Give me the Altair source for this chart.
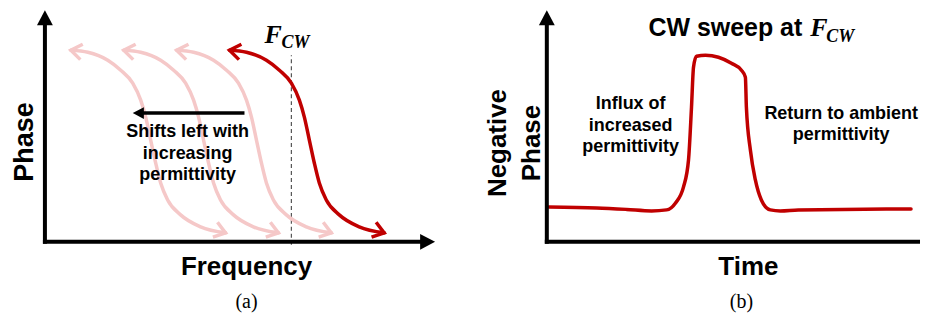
import altair as alt
import pandas as pd

# ---------------- Panel (a): phase vs frequency (schematic) ----------------
red_freq = [185, 202, 222, 235, 247, 255, 260, 265, 270, 275, 282, 295, 315, 340]
red_phase = [192, 190, 182, 172, 159, 142, 125, 102, 79, 59, 42, 27, 15, 9]
pink3_freq = [132, 149, 169, 182, 194, 202, 207, 212, 217, 222, 229, 242, 262, 287]
pink2_freq = [79, 96, 116, 129, 141, 149, 154, 159, 164, 169, 176, 189, 209, 234]
pink1_freq = [26, 43, 63, 76, 88, 96, 101, 106, 111, 116, 123, 136, 156, 181]
pink_phase = [192, 190, 182, 172, 159, 142, 125, 102, 79, 59, 42, 27, 15, 9]
f_cw = 247
shift_arrow_from = 200
shift_arrow_to = 88
shift_arrow_level = 129
shift_text = ["Shifts left with", "increasing", "permittivity"]
shift_text_y = [105, 83, 62]

# ---------------- Panel (b): CW sweep at F_CW ----------------
time_b = [2, 50, 80, 105, 120, 129, 137, 142, 145, 147, 150, 159, 172, 185, 195, 199,
          200, 204, 209, 215, 224, 234, 252, 365]
negphase_b = [35, 34, 32.5, 31, 32, 39, 55, 82, 135, 175, 186, 187, 185, 179, 172, 165,
              135, 92, 62, 42, 32, 31, 32, 33]
influx_text = ["Influx of", "increased", "permittivity"]
influx_y = [133, 111, 90]
return_text = ["Return to ambient", "permittivity"]
return_y = [123, 102]

RED = "#C00000"
PINK = "#F5C8C8"
SANS = "Liberation Sans"
SERIF = "Liberation Serif"
CHEVRON = "M-1,-0.72L0,0L-1,0.72"
HEAD = "M0,0L-1,-0.53L-1,0.53Z"

H = 305
YDOM = [-71, 234]


def enc(xdom, xf="x:Q", yf="y:Q"):
    return dict(
        x=alt.X(xf, scale=alt.Scale(domain=xdom, nice=False, zero=False), axis=None),
        y=alt.Y(yf, scale=alt.Scale(domain=YDOM, nice=False, zero=False), axis=None),
    )


def axes_layers(xdom, x_end, x_head=True):
    x_line_end = x_end - 14 if x_head else x_end
    lines = pd.DataFrame({"x": [0, -2], "y": [-2, 0], "x2": [0, x_line_end], "y2": [218, 0]})
    rules = alt.Chart(lines).mark_rule(color="black", strokeWidth=4, strokeCap="butt").encode(
        **enc(xdom), x2="x2:Q", y2="y2:Q")
    hx, hy, ha = [0], [232], [270]
    if x_head:
        hx.append(x_end)
        hy.append(0)
        ha.append(0)
    heads = pd.DataFrame({"x": hx, "y": hy, "angle": ha})
    tips = alt.Chart(heads).mark_point(shape=HEAD, size=900, filled=True, color="black",
                                       opacity=1, strokeWidth=0).encode(
        **enc(xdom), angle=alt.Angle("angle:Q", scale=None))
    return [rules, tips]


def text_layer(df, xdom, size, weight="bold", font=SANS, align="center", angle=0, style=""):
    kw = dict(font=font, fontSize=size, fontWeight=weight, align=align,
              baseline="alphabetic", color="black")
    if angle:
        kw["angle"] = angle
    if style:
        kw["fontStyle"] = style
    return alt.Chart(df).mark_text(**kw).encode(**enc(xdom), text="t:N")


# ----- panel (a) -----
XA = [-37, 428]
rows = []
for name, fr in [("p1", pink1_freq), ("p2", pink2_freq), ("p3", pink3_freq)]:
    for i, (f, p) in enumerate(zip(fr, pink_phase)):
        rows.append({"x": f, "y": p, "curve": name, "i": i})
for i, (f, p) in enumerate(zip(red_freq, red_phase)):
    rows.append({"x": f, "y": p, "curve": "red", "i": i})
curves_a = pd.DataFrame(rows)

lines_a = alt.Chart(curves_a).mark_line(interpolate="monotone", strokeWidth=3.5,
                                         strokeCap="round").encode(
    **enc(XA),
    color=alt.Color("curve:N", scale=alt.Scale(domain=["p1", "p2", "p3", "red"],
                                               range=[PINK, PINK, PINK, RED]), legend=None),
    order="i:Q",
)

chev_rows = []
for fr, ph, col in [(pink1_freq, pink_phase, PINK), (pink2_freq, pink_phase, PINK),
                    (pink3_freq, pink_phase, PINK), (red_freq, red_phase, RED)]:
    chev_rows.append({"x": fr[0], "y": ph[0], "angle": 189, "col": col})
    chev_rows.append({"x": fr[-1], "y": ph[-1], "angle": 17, "col": col})
chev_a = alt.Chart(pd.DataFrame(chev_rows)).mark_point(
    shape=CHEVRON, size=470, filled=False, strokeWidth=3.5, opacity=1,
    strokeJoin="miter", strokeCap="butt").encode(
    **enc(XA), angle=alt.Angle("angle:Q", scale=None), color=alt.Color("col:N", scale=None))

dash_a = alt.Chart(pd.DataFrame({"x": [f_cw], "y": [-3], "y2": [187]})).mark_rule(
    color="#555555", strokeWidth=1.2, strokeDash=[4, 3]).encode(**enc(XA), y2="y2:Q")

shift_line = alt.Chart(pd.DataFrame({"x": [shift_arrow_from], "x2": [shift_arrow_to + 8],
                                     "y": [shift_arrow_level]})).mark_rule(
    color="black", strokeWidth=3.5).encode(**enc(XA), x2="x2:Q")
shift_head = alt.Chart(pd.DataFrame({"x": [shift_arrow_to], "y": [shift_arrow_level],
                                     "angle": [180]})).mark_point(
    shape=HEAD, size=500, filled=True, color="black", opacity=1, strokeWidth=0).encode(
    **enc(XA), angle=alt.Angle("angle:Q", scale=None))

shift_df = pd.DataFrame({"t": shift_text, "x": [143] * 3, "y": shift_text_y})
panel_a = alt.layer(
    dash_a,
    lines_a,
    chev_a,
    *axes_layers(XA, 391),
    shift_line,
    shift_head,
    text_layer(shift_df, XA, 18),
    text_layer(pd.DataFrame({"t": ["Phase"], "x": [-12], "y": [100]}), XA, 27, angle=270),
    text_layer(pd.DataFrame({"t": ["Frequency"], "x": [202], "y": [-33]}), XA, 26),
    text_layer(pd.DataFrame({"t": ["(a)"], "x": [202], "y": [-66]}), XA, 20,
               weight="normal", font=SERIF),
    text_layer(pd.DataFrame({"t": ["F"], "x": [220], "y": [199]}), XA, 26, font=SERIF,
               align="left", style="italic"),
    text_layer(pd.DataFrame({"t": ["CW"], "x": [237], "y": [194]}), XA, 18, font=SERIF,
               align="left", style="italic"),
).properties(width=465, height=H)

# ----- panel (b) -----
XB = [-75, 374]
curve_b = pd.DataFrame({"x": time_b, "y": negphase_b, "i": list(range(len(time_b)))})
line_b = alt.Chart(curve_b).mark_line(interpolate="monotone", strokeWidth=3.5, color=RED,
                                      strokeCap="round").encode(**enc(XB), order="i:Q")

influx_df = pd.DataFrame({"t": influx_text, "x": [84] * 3, "y": influx_y})
return_df = pd.DataFrame({"t": return_text, "x": [295] * 2, "y": return_y})
panel_b = alt.layer(
    line_b,
    *axes_layers(XB, 374, x_head=False),
    text_layer(influx_df, XB, 18),
    text_layer(return_df, XB, 18),
    text_layer(pd.DataFrame({"t": ["Negative"], "x": [-41], "y": [99]}), XB, 26, angle=270),
    text_layer(pd.DataFrame({"t": ["Phase"], "x": [-7], "y": [99]}), XB, 26, angle=270),
    text_layer(pd.DataFrame({"t": ["Time"], "x": [202], "y": [-33]}), XB, 26),
    text_layer(pd.DataFrame({"t": ["(b)"], "x": [195], "y": [-66]}), XB, 20,
               weight="normal", font=SERIF),
    text_layer(pd.DataFrame({"t": ["CW sweep at"], "x": [256], "y": [206]}), XB, 25,
               align="right"),
    text_layer(pd.DataFrame({"t": ["F"], "x": [264], "y": [206]}), XB, 26, font=SERIF,
               align="left", style="italic"),
    text_layer(pd.DataFrame({"t": ["CW"], "x": [280], "y": [200]}), XB, 18, font=SERIF,
               align="left", style="italic"),
).properties(width=449, height=H)

chart = alt.hconcat(panel_a, panel_b, spacing=0).properties(padding=0).configure_view(
    stroke=None)

chart.save("out.html", embed_options={"renderer": "svg", "actions": False})
